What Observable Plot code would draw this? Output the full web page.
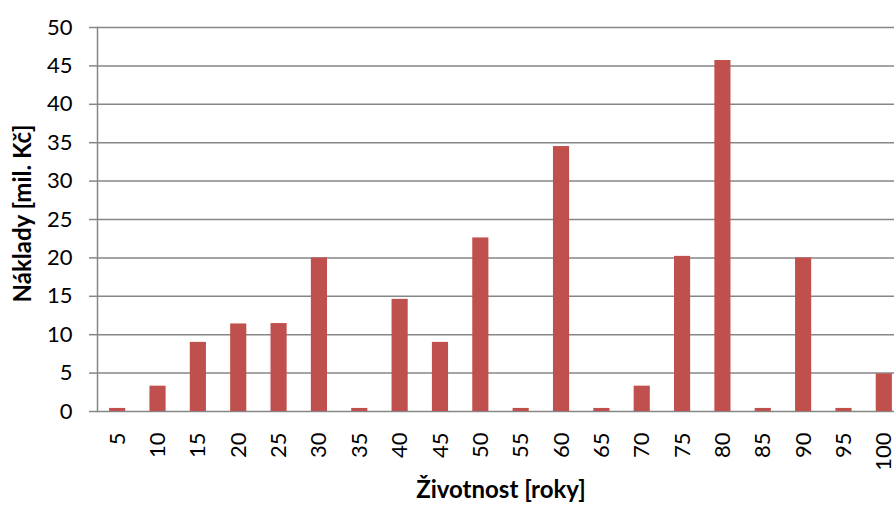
<!DOCTYPE html>
<html>
<head>
<meta charset="utf-8">
<script src="https://cdn.jsdelivr.net/npm/d3@7"></script>
<script src="https://cdn.jsdelivr.net/npm/@observablehq/plot@0.6"></script>
<style>
  html, body { margin: 0; padding: 0; background: #fff; overflow: hidden; }
  #chart svg { max-width: none; }
</style>
</head>
<body>
<div id="chart"></div>
<script>
// Lifetime categories (years) and costs (million CZK)
const lifetimes = ["5", "10", "15", "20", "25", "30", "35", "40", "45", "50",
                   "55", "60", "65", "70", "75", "80", "85", "90", "95", "100"];
const costs = [0.4, 3.3, 9.0, 11.4, 11.45, 20.0, 0.4, 14.6, 9.0, 22.6,
               0.4, 34.5, 0.4, 3.3, 20.2, 45.7, 0.4, 20.0, 0.4, 4.9];
const yTicks = [0, 5, 10, 15, 20, 25, 30, 35, 40, 45, 50];

const xTitle = "Životnost [roky]";
const yTitle = "Náklady [mil. Kč]";

const rows = lifetimes.map((k, i) => ({lifetime: k, cost: costs[i]}));

const font = "Lato, 'Open Sans', sans-serif";
const grid = "#868686";

const chart = Plot.plot({
  width: 904,
  height: 507,
  marginLeft: 97,
  marginRight: 0,
  marginTop: 27,
  marginBottom: 96,
  style: {fontFamily: font, color: "#000", background: "#fff", maxWidth: "none", overflow: "visible"},
  x: {type: "band", domain: lifetimes, paddingInner: 0.6, paddingOuter: 0.3, align: 0.5, round: false, label: null},
  y: {domain: [0, 50], label: null},
  marks: [
    Plot.gridY(yTicks, {stroke: grid, strokeOpacity: 1, strokeWidth: 1.5}),
    Plot.frame({anchor: "left", stroke: grid, strokeWidth: 1.5}),
    Plot.barY(rows, {x: "lifetime", y: "cost", fill: "#C0504D"}),
    Plot.axisY(yTicks, {tickSize: 8, tickPadding: 17, fontSize: 22, stroke: grid, strokeWidth: 1.5, label: null}),
    Plot.axisX({tickSize: 0, tickPadding: 21, tickRotate: -90, fontSize: 22, label: null}),
    Plot.text([xTitle], {frameAnchor: "bottom", dy: 86, fontSize: 24, fontWeight: "bold", textAnchor: "middle"}),
    Plot.text([yTitle], {frameAnchor: "left", dx: -74, dy: -6, rotate: -90, fontSize: 24, fontWeight: "bold", textAnchor: "middle"})
  ]
});

document.getElementById("chart").appendChild(chart);
</script>
</body>
</html>
